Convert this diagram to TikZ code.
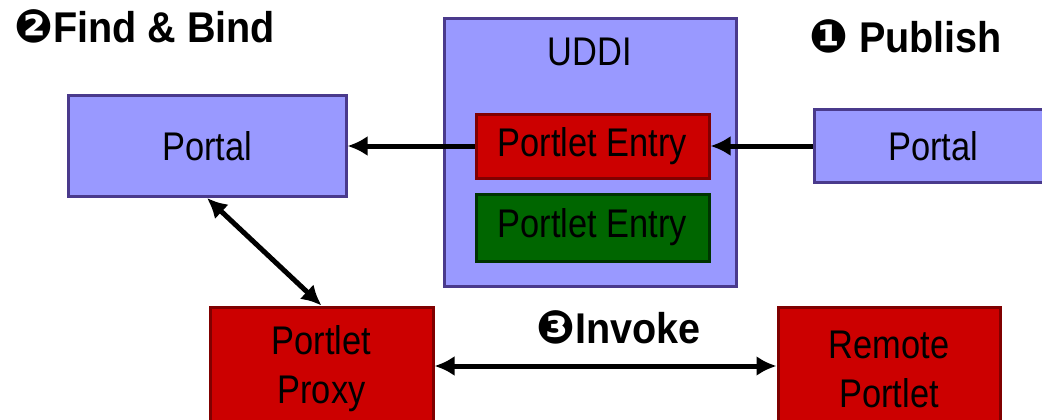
\documentclass[tikz,border=0pt]{standalone}
\usepackage{fontspec}
\setmainfont{Liberation Sans}[FakeStretch=0.86, BoldFeatures={FakeStretch=0.92}]
\newfontfamily\dingfont{DejaVu Sans}
\newcommand\circnum[1]{{\dingfont\fontsize{46}{48}\selectfont #1}}
\usetikzlibrary{arrows.meta, positioning}
\definecolor{boxblue}{HTML}{9999FF}
\definecolor{edgeblue}{HTML}{4A3A8C}
\definecolor{boxred}{HTML}{CC0000}
\definecolor{edgered}{HTML}{800000}
\definecolor{boxgreen}{HTML}{006600}
\definecolor{edgegreen}{HTML}{003300}

\begin{document}
\begin{tikzpicture}[
  x=1pt, y=-1pt,
  blue box/.style={draw=edgeblue, fill=boxblue, line width=3pt, inner sep=0pt, font=\fontsize{40}{48}\selectfont},
  red box/.style={draw=edgered, fill=boxred, line width=3pt, inner sep=0pt, align=center, font=\fontsize{40}{49}\selectfont},
  green box/.style={draw=edgegreen, fill=boxgreen, line width=3pt, inner sep=0pt, font=\fontsize{40}{48}\selectfont},
  title/.style={anchor=base west, inner sep=0pt, font=\fontsize{43}{48}\selectfont\bfseries},
  line/.style={-{Latex[length=20pt,width=20pt]}, line width=5pt},
  dline/.style={{Latex[length=20pt,width=20pt]}-{Latex[length=20pt,width=20pt]}, line width=5pt}
]
\clip (0,0) rectangle (1042,420);

\node[blue box, minimum width=278pt, minimum height=101pt] (portalL) at (207,146) {Portal};
\node[blue box, minimum width=292pt, minimum height=267pt] (uddi) at (590,152.5) {};
\node[inner sep=0pt, font=\fontsize{40}{48}\selectfont] (uddilabel) at (590,52) {UDDI};
\node[red box, minimum width=233pt, minimum height=64pt] (entryA) at (592.5,146) {Portlet Entry};
\node[green box, minimum width=233pt, minimum height=67pt] (entryB) at (592.5,227.5) {Portlet Entry};
\node[blue box, minimum width=238pt, minimum height=73pt] (portalR) at (933,146) {Portal};

\node[red box, minimum width=223pt, minimum height=124pt] (proxy) at (321.5,369) {Portlet\\Proxy};
\node[red box, minimum width=222pt, minimum height=124pt] (remote) at (889,369) {Remote\\Portlet};

\node[title] (find) at (14,43) {\circnum{❷}Find \& Bind};
\node[title] (publish) at (809,53) {\circnum{❶} Publish};
\node[title] (invoke) at (536,343) {\circnum{❸}Invoke};

\draw[line] (entryA.west) -- (portalL.east);
\draw[line] (portalR.west) -- (entryA.east);
\draw[dline] (portalL.south) -- (proxy.north);
\draw[dline] (proxy.east |- 0,366) -- (remote.west |- 0,366);
\end{tikzpicture}
\end{document}
